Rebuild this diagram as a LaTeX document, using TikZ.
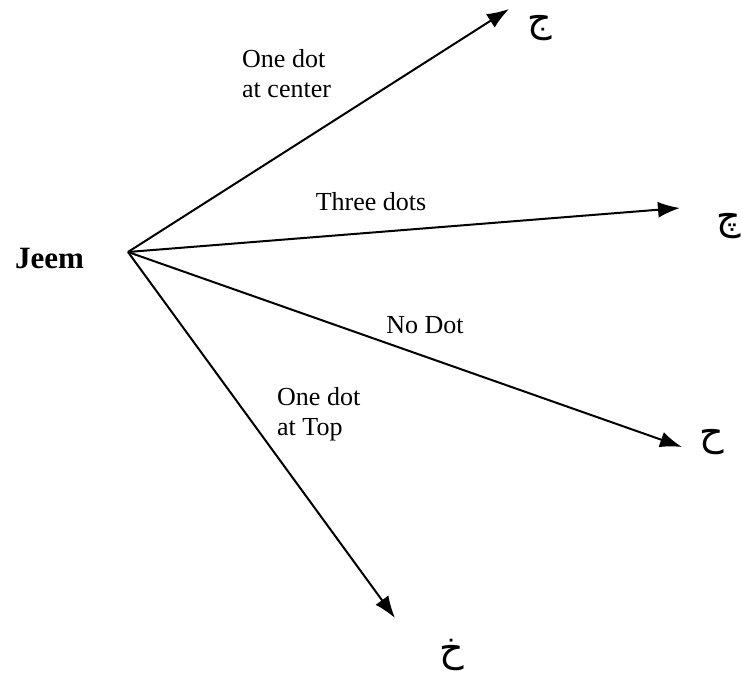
\documentclass[tikz,border=0pt]{standalone}
\usepackage{fontspec}
\setmainfont{Liberation Serif}
\newfontfamily\arabicfont[Script=Arabic]{DejaVu Sans}
\TeXXeTstate=1
\usetikzlibrary{arrows.meta, positioning}
\tikzset{
  lbl/.style={align=left, font=\fontsize{26}{30}\selectfont, inner sep=0pt},
  letter/.style={font=\arabicfont\fontsize{38}{42}\selectfont, inner sep=0pt},
  arr/.style={-{Latex[length=22pt,width=16pt]}, line width=2pt},
}
\begin{document}
\begin{tikzpicture}[x=1pt, y=-1pt]
\useasboundingbox (0,0) rectangle (742,677);
\node[font=\bfseries\fontsize{31}{35}\selectfont, anchor=base west, inner sep=0pt] (jeem) at (15,268) {Jeem};
\coordinate (o) at (128,252);
% arrow tips
\coordinate (ecenter) at (509,9);
\coordinate (ethree) at (680,208);
\coordinate (enone) at (682,447);
\coordinate (etop) at (395,618);
% letters
\node[letter] (jcenter) at (540,28) {\beginR ج\endR};
\node[letter] (jthree) at (729,226) {\beginR چ\endR};
\node[letter] (jnone) at (712,442) {\beginR ح\endR};
\node[letter] (jtop) at (452,655) {\beginR خ\endR};
% labels
\node[lbl, anchor=base west] (lcenter) at (242,98) {One dot\\at center};
\node[lbl, anchor=base] (lthree) at (371,210) {Three dots};
\node[lbl, anchor=base] (lnone) at (425,333) {No Dot};
\node[lbl, anchor=base west] (ltop) at (277,435) {One dot\\at Top};
\draw[arr] (o) -- (ecenter);
\draw[arr] (o) -- (ethree);
\draw[arr] (o) -- (enone);
\draw[arr] (o) -- (etop);
\end{tikzpicture}
\end{document}
